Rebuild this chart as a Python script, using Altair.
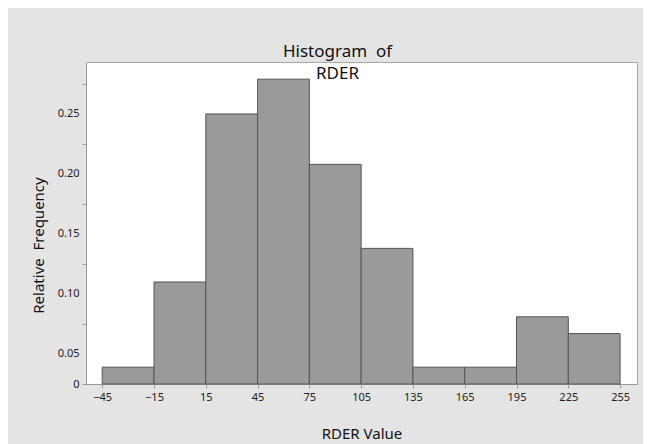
import altair as alt
import pandas as pd

# Histogram bins (lower edges), bin width and relative frequencies
bin_starts = [-45, -15, 15, 45, 75, 105, 135, 165, 195, 225]
rel_freq = [0.014, 0.085, 0.225, 0.254, 0.183, 0.113, 0.014, 0.014, 0.056, 0.042]
bin_width = 30

x_tick_values = [-45, -15, 15, 45, 75, 105, 135, 165, 195, 225, 255]
y_tick_values = [0, 0.025, 0.05, 0.075, 0.1, 0.125, 0.15, 0.175, 0.2, 0.225, 0.25]

df = pd.DataFrame({
    "start": bin_starts,
    "end": [s + bin_width for s in bin_starts],
    "freq": rel_freq,
})

FONT = "Noto Sans"
TICK = "abs(datum.value*20 - round(datum.value*20)) < 0.01"

chart = alt.Chart(
    df,
    title=alt.Title(
        ["Histogram\u00a0 of", "RDER"],
        font=FONT, fontSize=17, fontWeight="normal", color="#111111",
        anchor="middle", dx=-24, baseline="alphabetic", lineHeight=22,
        offset=0, dy=34,
    ),
).mark_rect(fill="#9a9a9a", stroke="#555555", strokeWidth=1).encode(
    x=alt.X(
        "start:Q",
        scale=alt.Scale(domain=[-54.4, 264.8], nice=False, zero=False),
        axis=alt.Axis(
            values=x_tick_values, title="RDER Value", grid=False,
            labelFont=FONT, labelFontSize=11, labelColor="#222222",
            labelPadding=3, tickSize=4, labelFlush=False, labelOverlap=False,
            titleFont=FONT, titleFontSize=15, titleFontWeight="normal",
            titleColor="#111111", titleBaseline="alphabetic", titleY=54,
        ),
    ),
    x2="end:Q",
    y=alt.Y(
        "freq:Q",
        scale=alt.Scale(domain=[0, 0.2683], nice=False),
        axis=alt.Axis(
            values=y_tick_values, title="Relative\u00a0 Frequency", grid=False,
            labelExpr="datum.value == 0 ? '0' : (" + TICK + " ? '' : format(datum.value + 0.025, '.2f'))",
            labelFont=FONT, labelFontSize=11, labelColor="#222222",
            labelPadding=3, tickSize=4, labelOverlap=False, labelFlush=False,
            labelBaseline="middle",
            tickOpacity={"condition": {"test": TICK, "value": 1}, "value": 0},
            titleFont=FONT, titleFontSize=15, titleFontWeight="normal",
            titleColor="#111111", titleX=-48, titleY=183,
            titleAlign="center", titleBaseline="middle", titleAngle=270,
        ),
    ),
    y2=alt.datum(0),
).properties(
    width=551,
    height=322,
    autosize=alt.AutoSizeParams(type="none"),
    padding={"left": 78, "top": 54, "right": 6, "bottom": 60},
    background="#e4e4e4",
).configure_view(
    stroke="#a8a8a8", fill="white"
).configure_axis(
    domainColor="#9a9a9a", tickColor="#9a9a9a"
)

chart.save("out.html", embed_options={"renderer": "svg", "actions": False})
